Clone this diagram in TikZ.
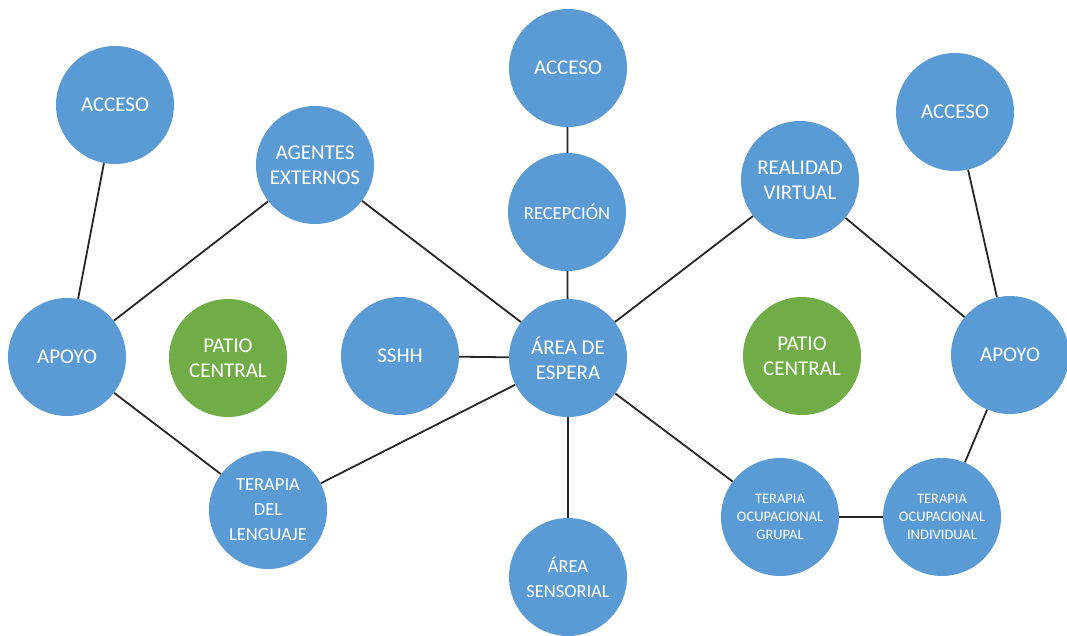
\documentclass[tikz,border=0pt]{standalone}
\usepackage{fontspec}
\setmainfont{Carlito}
\usepackage{xcolor}
\definecolor{zona}{RGB}{91,155,213}
\definecolor{patio}{RGB}{112,173,71}

\begin{document}
\begin{tikzpicture}[x=1pt, y=-1pt,
  espacio/.style={circle, fill=zona, text=white, align=center, minimum size=118pt, inner sep=0pt, font=\fontsize{21}{25}\selectfont},
  verde/.style={espacio, fill=patio},
  medio/.style={font=\fontsize{18.5}{25}\selectfont},
  chico/.style={font=\fontsize{14.5}{18}\selectfont},
  enlace/.style={draw=black!85, line width=1.8pt}]
  \useasboundingbox (0,0) rectangle (1067,635);
  % espacios
  \node[espacio] (accL) at (115,105) {ACCESO};
  \node[espacio] (agentes) at (315,165) {AGENTES\\EXTERNOS};
  \node[espacio] (accC) at (568,68) {ACCESO};
  \node[espacio, font=\fontsize{18.5}{22}\selectfont] (recep) at (567,212) {RECEPCIÓN};
  \node[espacio] (realidad) at (800,180) {REALIDAD\\VIRTUAL};
  \node[espacio] (accR) at (955,112) {ACCESO};
  \node[espacio] (apoyoL) at (67,357) {APOYO};
  \node[verde] (patioL) at (228,358) {PATIO\\CENTRAL};
  \node[espacio] (sshh) at (400,356) {SSHH};
  \node[espacio] (espera) at (568,358) {ÁREA DE\\ESPERA};
  \node[verde] (patioR) at (802,356) {PATIO\\CENTRAL};
  \node[espacio] (apoyoR) at (1010,355) {APOYO};
  \node[espacio, medio] (lenguaje) at (268,510) {TERAPIA\\DEL\\LENGUAJE};
  \node[espacio, medio] (sensorial) at (568,577) {ÁREA\\SENSORIAL};
  \node[espacio, chico] (grupal) at (780,517) {TERAPIA\\OCUPACIONAL\\GRUPAL};
  \node[espacio, chico] (individual) at (942,517) {TERAPIA\\OCUPACIONAL\\INDIVIDUAL};
  % conexiones
  \foreach \a/\b in {accL/apoyoL, apoyoL/agentes, apoyoL/lenguaje, agentes/espera,
    accC/recep, recep/espera, realidad/espera, realidad/apoyoR, accR/apoyoR,
    sshh/espera, lenguaje/espera, espera/sensorial, espera/grupal,
    grupal/individual, individual/apoyoR}
    \draw[enlace] (\a) -- (\b);
\end{tikzpicture}
\end{document}
